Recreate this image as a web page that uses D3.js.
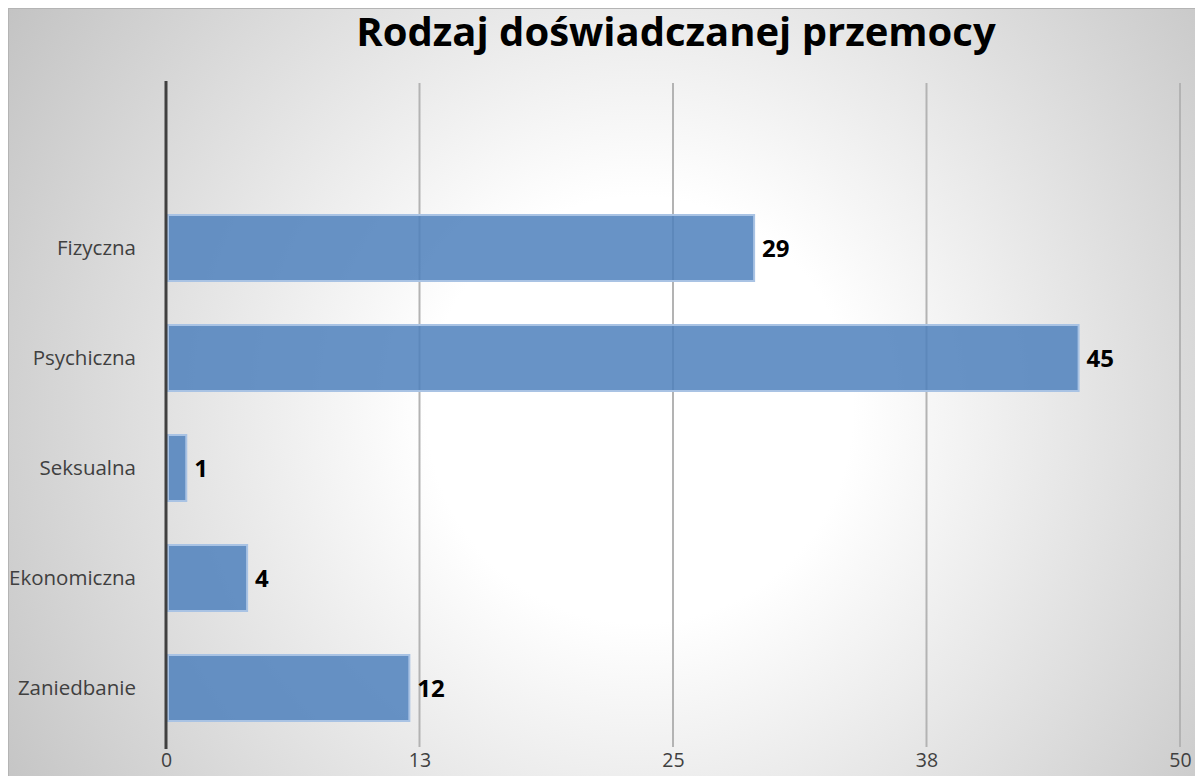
<!DOCTYPE html>
<html><head><meta charset="utf-8">
<script src="https://cdn.jsdelivr.net/npm/d3@7"></script>
<style>html,body{margin:0;padding:0;background:#fff;overflow:hidden}</style>
</head><body>
<script>
const categories = ["", "Fizyczna", "Psychiczna", "Seksualna", "Ekonomiczna", "Zaniedbanie"];
const values = [null, 29, 45, 1, 4, 12];
const tickValues = [0, 12.5, 25, 37.5, 50];
const tickLabels = ["0", "13", "25", "38", "50"];
const title = "Rodzaj doświadczanej przemocy";

const W = 1195, H = 776;
const svg = d3.select("body").append("svg").attr("width", W).attr("height", H);
const defs = svg.append("defs");
const rg = defs.append("radialGradient").attr("id", "bg").attr("gradientUnits", "userSpaceOnUse")
  .attr("cx", 640).attr("cy", 410).attr("r", 760);
rg.append("stop").attr("offset", "0%").attr("stop-color", "#ffffff");
rg.append("stop").attr("offset", "28%").attr("stop-color", "#ffffff");
rg.append("stop").attr("offset", "100%").attr("stop-color", "#c2c2c2");

svg.append("rect").attr("x", 8.5).attr("y", 8.5).attr("width", 1240).attr("height", 820)
  .attr("fill", "url(#bg)").attr("stroke", "#b4b4b4").attr("stroke-width", 1);

const x = d3.scaleLinear().domain([0, 50]).range([166, 1180]);
const y = d3.scaleBand().domain(categories).range([83, 743]).paddingInner(0.4).paddingOuter(0.2);

// gridlines
svg.append("g").selectAll("line").data(tickValues.slice(1)).join("line")
  .attr("x1", d => x(d)).attr("x2", d => x(d)).attr("y1", 83).attr("y2", 747)
  .attr("stroke", "#b3b3b3").attr("stroke-width", 2);

// x tick labels
const xAxis = d3.axisBottom(x).tickValues(tickValues).tickFormat((d, i) => tickLabels[i]).tickSize(0).tickPadding(0);
const gx = svg.append("g").attr("transform", "translate(0,753)").call(xAxis);
gx.select(".domain").remove();
gx.selectAll("text").attr("font-family", "Open Sans, sans-serif").attr("font-size", 19.5).attr("fill", "#404040").attr("dy", "0.71em");

// bars
const rows = categories.map((c, i) => ({c, v: values[i]})).filter(d => d.v != null);
svg.append("g").selectAll("rect").data(rows).join("rect")
  .attr("x", x(0) + 2).attr("y", d => y(d.c))
  .attr("width", d => x(d.v) - x(0) - 2).attr("height", y.bandwidth())
  .attr("fill", "#4f81bd").attr("fill-opacity", 0.86)
  .attr("stroke", "#a9c3e4").attr("stroke-width", 2);

// value labels
svg.append("g").selectAll("text").data(rows).join("text")
  .attr("x", d => x(d.v) + 8).attr("y", d => y(d.c) + y.bandwidth() / 2)
  .attr("dy", "0.36em").attr("font-family", "Open Sans, sans-serif").attr("font-weight", "bold")
  .attr("font-size", 24).attr("fill", "#000").text(d => d.v);

// y axis
const yAxis = d3.axisLeft(y).tickSize(0).tickPadding(0);
const gy = svg.append("g").attr("transform", "translate(136,0)").call(yAxis);
gy.select(".domain").remove();
gy.selectAll("text").attr("font-family", "Open Sans, sans-serif").attr("font-size", 20.5).attr("fill", "#404040");

svg.append("line").attr("x1", x(0)).attr("x2", x(0)).attr("y1", 81).attr("y2", 749)
  .attr("stroke", "#404040").attr("stroke-width", 3);

svg.append("text").attr("x", 676).attr("y", 46).attr("text-anchor", "middle")
  .attr("font-family", "Open Sans, sans-serif").attr("font-weight", "bold").attr("font-size", 40)
  .attr("fill", "#000").text(title);
</script>
</body></html>
